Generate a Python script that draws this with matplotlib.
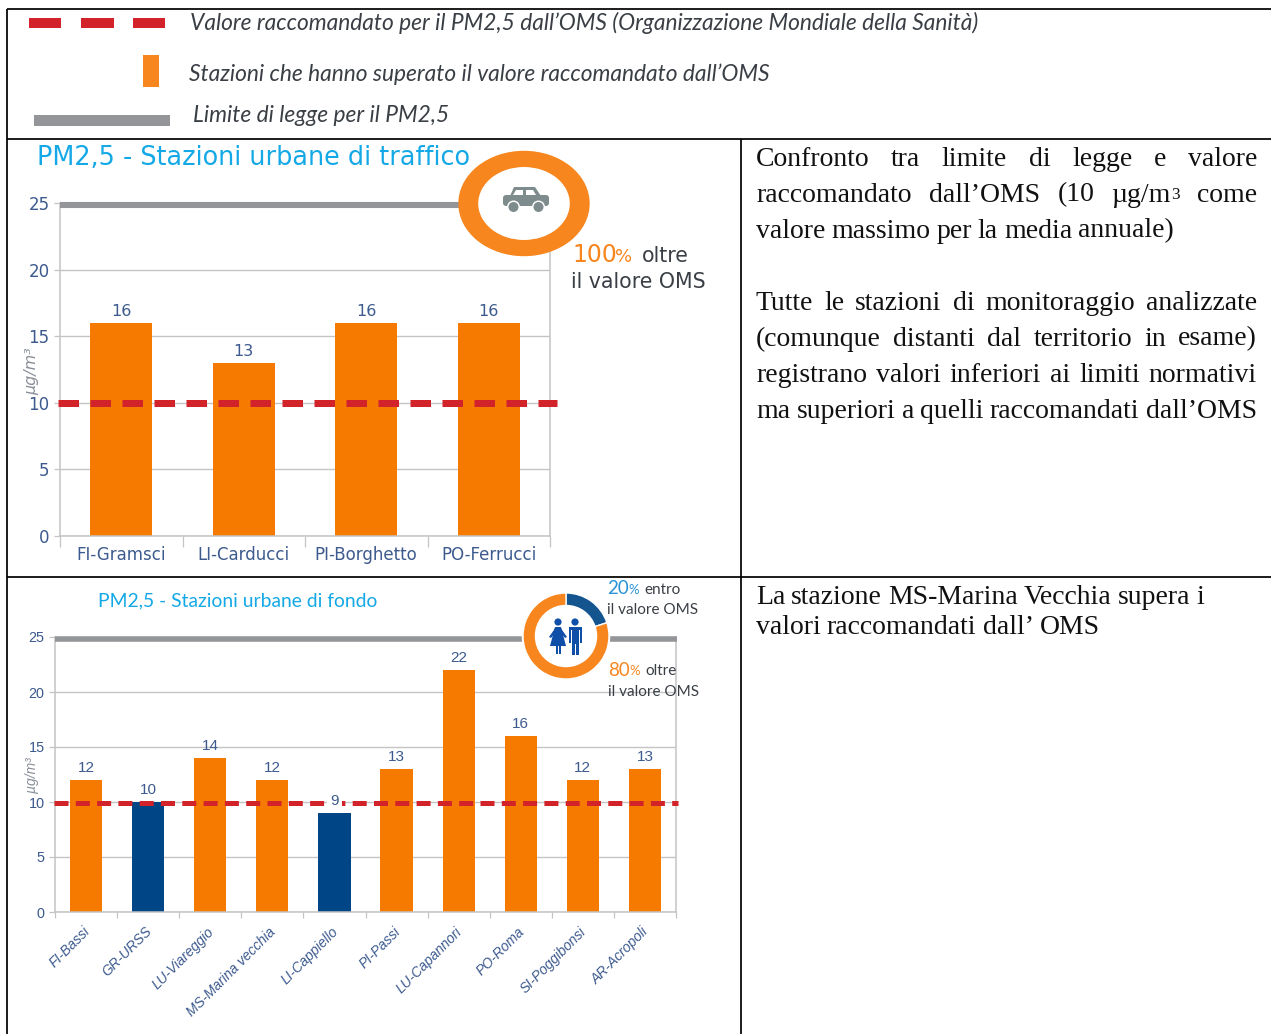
import matplotlib
matplotlib.use("Agg")
import matplotlib.pyplot as plt
from matplotlib.patches import Rectangle, Circle, Polygon, FancyBboxPatch
from matplotlib.transforms import offset_copy

W, H = 1271, 1034

traffic_names = ["FI-Gramsci", "LI-Carducci", "PI-Borghetto", "PO-Ferrucci"]
traffic_values = [16, 13, 16, 16]
background_names = ["FI-Bassi", "GR-URSS", "LU-Viareggio", "MS-Marina vecchia", "LI-Cappiello",
                    "PI-Passi", "LU-Capannori", "PO-Roma", "SI-Poggibonsi", "AR-Acropoli"]
background_values = [12, 10, 14, 12, 9, 13, 22, 16, 12, 13]
who_value = 10
legal_limit = 25
y_ticks = [0, 5, 10, 15, 20, 25]
traffic_share = [100]
background_share = [20, 80]

ORANGE = "#F77A00"
RING = "#F7861E"
NAVY = "#004586"
RED = "#D2232A"
GREY = "#949598"
GRID = "#C4C4C4"
LABEL = "#3C5A8E"
SKY = "#14A9E6"
INK = "#3A3F45"

fig = plt.figure(figsize=(W / 100, H / 100), dpi=100, facecolor="white")


def px_axes(x0, y0, x1, y1, **kw):
    return fig.add_axes([x0 / W, 1 - y1 / H, (x1 - x0) / W, (y1 - y0) / H], **kw)


def bar_chart(rect, names, values, colors, width, font, fs, red_px, dash_px, red_over, red_drop,
              lw_grey, grey_drop, val_fs, val_gap):
    ax = px_axes(*rect)
    ax.set_xlim(-0.5, len(names) - 0.5)
    ax.set_ylim(0, 25)
    ax.set_yticks(y_ticks)
    ax.set_xticks([i - 0.5 for i in range(len(names) + 1)])
    ax.set_xticklabels([])
    ax.yaxis.grid(True, color=GRID, lw=1.0)
    ax.set_axisbelow(True)
    ax.spines["top"].set_visible(False)
    for s in ["left", "right", "bottom"]:
        ax.spines[s].set_color(GRID)
        ax.spines[s].set_linewidth(1.1)
    ax.tick_params(axis="both", color=GRID, length=4.5, width=0.9)
    ax.tick_params(axis="y", labelcolor=LABEL, labelsize=fs, pad=3)
    for t in ax.get_yticklabels():
        t.set_family(font)
    ax.bar(range(len(names)), values, width=width, color=colors, zorder=2)
    tr = offset_copy(ax.transData, fig=fig, x=0, y=-grey_drop, units="dots")
    ax.plot([-0.5, len(names) - 0.5 + red_over[1] * 0.6], [legal_limit, legal_limit], color=GREY, lw=lw_grey,
            solid_capstyle="butt", transform=tr, clip_on=False, zorder=3)
    tr2 = offset_copy(ax.transData, fig=fig, x=0, y=-red_drop, units="dots")
    lw_pt = red_px * 0.72
    ax.plot([-0.5 - red_over[0], len(names) - 0.5 + red_over[1]], [who_value, who_value],
            color=RED, lw=lw_pt, dashes=(dash_px[0] / red_px, dash_px[1] / red_px),
            dash_capstyle="butt", clip_on=False, transform=tr2, zorder=4)
    for i, v in enumerate(values):
        t = ax.annotate(str(v), (i, v), xytext=(0, val_gap), textcoords="offset points",
                        ha="center", va="bottom", color=LABEL, fontsize=val_fs,
                        family=font, zorder=5)
        if v < who_value:
            t.set_bbox(dict(facecolor="white", edgecolor="none", pad=2.5))
    return ax


a1 = bar_chart((60, 203, 550, 536), traffic_names, traffic_values, [ORANGE] * 4, 0.51,
               "DejaVu Sans", 12, 7, (20.5, 11.5), (0.02, 0.057), 0, 4.4, 2, 11.5, 3)
a1.tick_params(axis="x", length=8)
for i, n in enumerate(traffic_names):
    a1.text(i, -1.42, n, ha="center", va="center", color=LABEL, fontsize=12, family="DejaVu Sans")
a1.text(-0.73, 12.4, "µg/m³", rotation=90, ha="center", va="center", color="#8A8F99",
        fontsize=11.5, style="italic", family="DejaVu Sans")

bg_colors = [ORANGE if v > who_value else NAVY for v in background_values]
a2 = bar_chart((55, 637, 676, 912), background_names, background_values, bg_colors, 0.52,
               "Liberation Sans", 10.4, 5, (14, 7.3), (0.016, 0.03), 1, 4.0, 2, 11, 3.5)
for i, n in enumerate(background_names):
    a2.annotate(n, (i, 0), xytext=(-2.5, -9), textcoords="offset points", rotation=45, ha="right",
                va="top", rotation_mode="anchor", color=LABEL, fontsize=10,
                style="italic", family="Liberation Sans")
a2.text(-0.87, 12.4, "µg/m³", rotation=90, ha="center", va="center", color="#8A8F99",
        fontsize=10, style="italic", family="Liberation Sans")


def donut(cx, cy, rx, ry, shares, colors, ring, halo):
    ax = px_axes(cx - rx - 3, cy - ry - 3, cx + rx + 3, cy + ry + 3, zorder=6)
    ax.add_patch(Circle((0, 0), halo, facecolor="white", edgecolor="none"))
    ax.pie(shares, colors=colors, startangle=90, counterclock=False, radius=1,
           wedgeprops=dict(width=ring, edgecolor=colors[0] if len(colors) == 1 else "white", linewidth=1.0))
    ax.set_aspect("auto")
    ax.set_xlim(-(1 + 3 / rx), 1 + 3 / rx)
    ax.set_ylim(-(1 + 3 / ry), 1 + 3 / ry)
    ax.set_zorder(6)
    return ax


donut(524, 203.5, 65, 52, traffic_share, [RING], 0.285, 0.99)
donut(566, 636, 43, 43, background_share, ["#14558F", RING], 0.29, 1.03)

ov = px_axes(0, 0, W, H, zorder=10)
ov.set_xlim(0, W)
ov.set_ylim(H, 0)
ov.axis("off")
ov.patch.set_alpha(0)

# table rules
for (x0, y0, x1, y1) in [(7, 9, W, 9), (7, 139, W, 139), (7, 577, W, 577),
                         (7, 9, 7, H), (741, 139, 741, H)]:
    ov.plot([x0, x1], [y0, y1], color="black", lw=1.25, solid_capstyle="butt")

# legend
for x0, x1 in [(29, 61), (81, 114), (133, 165)]:
    ov.add_patch(Rectangle((x0, 18), x1 - x0, 10, color=RED, lw=0))
ov.add_patch(Rectangle((143, 55), 16, 32, color=RING, lw=0))
ov.add_patch(Rectangle((34, 115), 136, 11, color=GREY, lw=0))
leg = dict(family="Lato", style="italic", color=INK, fontsize=16.4, va="center", ha="left")
ov.text(190, 23, "Valore raccomandato per il PM2,5 dall’OMS (Organizzazione Mondiale della Sanità)", **leg)
ov.text(189, 74, "Stazioni che hanno superato il valore raccomandato dall’OMS", **leg)
ov.text(193, 115, "Limite di legge per il PM2,5", **leg)

# titles
ov.text(37, 158, "PM2,5 - Stazioni urbane di traffico", family="DejaVu Sans", color=SKY,
        fontsize=18.4, va="center", ha="left")
ov.text(98, 601, "PM2,5 - Stazioni urbane di fondo", family="Lato", color=SKY,
        fontsize=13.9, va="center", ha="left")

# donut captions
ov.text(572, 255, "100", family="DejaVu Sans", color=RING, fontsize=17, va="center")
ov.text(615, 257, "%", family="DejaVu Sans", color=RING, fontsize=13, va="center")
ov.text(642, 256, "oltre", family="DejaVu Sans", color=INK, fontsize=14.8, va="center")
ov.text(571, 282, "il valore OMS", family="DejaVu Sans", color=INK, fontsize=14.8, va="center")
cap = dict(family="Lato", va="center", ha="left")
ov.text(607, 589, "20", color="#2A93D5", fontsize=13.5, **cap)
ov.text(628, 590, "%", color="#2A93D5", fontsize=9.5, **cap)
ov.text(644, 590, "entro", color=INK, fontsize=11, **cap)
ov.text(607, 610, "il valore OMS", color=INK, fontsize=11, **cap)
ov.text(608, 670, "80", color=RING, fontsize=13.5, **cap)
ov.text(629, 671, "%", color=RING, fontsize=9.5, **cap)
ov.text(645, 671, "oltre", color=INK, fontsize=11, **cap)
ov.text(608, 692, "il valore OMS", color=INK, fontsize=11, **cap)

# car icon
CAR = "#7F8C8D"
ov.add_patch(FancyBboxPatch((503, 195), 46, 11, boxstyle="round,pad=0,rounding_size=3", color=CAR, lw=0))
ov.add_patch(Polygon([(510, 196), (514, 187), (535, 187), (541, 196)], closed=True, color=CAR, lw=0))
ov.add_patch(Polygon([(513, 195), (516, 190), (523, 190), (523, 195)], closed=True, color="white", lw=0))
ov.add_patch(Polygon([(526, 195), (526, 190), (533, 190), (536, 195)], closed=True, color="white", lw=0))
for cx in (513.5, 538.5):
    ov.add_patch(Circle((cx, 207), 6.5, color="white", lw=0))
    ov.add_patch(Circle((cx, 207), 5, color=CAR, lw=0))

# people icon
PEOPLE = "#0F4FA8"
ov.add_patch(Circle((558, 622), 3.6, color=PEOPLE, lw=0))
ov.add_patch(Polygon([(555, 627), (561, 627), (566, 646), (550, 646)], closed=True, color=PEOPLE, lw=0))
ov.add_patch(Polygon([(556, 627), (549, 637), (551, 638), (558, 629)], closed=True, color=PEOPLE, lw=0))
ov.add_patch(Polygon([(560, 627), (567, 637), (565, 638), (558, 629)], closed=True, color=PEOPLE, lw=0))
ov.add_patch(Rectangle((556, 646), 1.8, 8, color=PEOPLE, lw=0))
ov.add_patch(Rectangle((559, 646), 1.8, 8, color=PEOPLE, lw=0))
ov.add_patch(Circle((575, 622), 3.6, color=PEOPLE, lw=0))
ov.add_patch(Rectangle((569, 627), 13, 3, color=PEOPLE, lw=0))
ov.add_patch(Rectangle((569, 627), 2.2, 16, color=PEOPLE, lw=0))
ov.add_patch(Rectangle((579.8, 627), 2.2, 16, color=PEOPLE, lw=0))
ov.add_patch(Rectangle((572, 627), 7, 17, color=PEOPLE, lw=0))
ov.add_patch(Rectangle((572, 644), 3, 11, color=PEOPLE, lw=0))
ov.add_patch(Rectangle((576, 644), 3, 11, color=PEOPLE, lw=0))

# right-hand text
BODY = dict(family="Liberation Serif", color="#111111", va="center", ha="left")
BODY_FS = 20
renderer = fig.canvas.get_renderer()


def width_of(s, fs):
    t = ov.text(0, 0, s, fontsize=fs, **BODY)
    w = t.get_window_extent(renderer).width
    t.remove()
    return w


def line(words, y, x0=756, x1=None, space=6.0):
    """words: list of strings, or lists of (text, size_factor) segments."""
    segs = [w if isinstance(w, list) else [(w, 1)] for w in words]
    widths = [sum(width_of(s, BODY_FS * f) for s, f in w) for w in segs]
    gap = space if x1 is None else (x1 - x0 - sum(widths)) / (len(words) - 1)
    x = x0
    for w, wd in zip(segs, widths):
        xx = x
        for s, f in w:
            ov.text(xx, y, s, fontsize=BODY_FS * f, **BODY)
            xx += width_of(s, BODY_FS * f)
        x += wd + gap


R = 1257
line("Confronto tra limite di legge e valore".split(), 159, x1=R)
line(["raccomandato", "dall’OMS", "(10", [("µg/m", 1), ("3", 0.62)], "come"], 195, x1=R)
line("valore massimo per la media annuale)".split(), 231)
line("Tutte le stazioni di monitoraggio analizzate".split(), 303, x1=R)
line("(comunque distanti dal territorio in esame)".split(), 339, x1=R)
line("registrano valori inferiori ai limiti normativi".split(), 375, x1=R)
line("ma superiori a quelli raccomandati dall’OMS".split(), 411, x1=R)
line("La stazione MS-Marina Vecchia supera i".split(), 597)
line("valori raccomandati dall’ OMS".split(), 628)

fig.savefig("out.png", dpi=100)
